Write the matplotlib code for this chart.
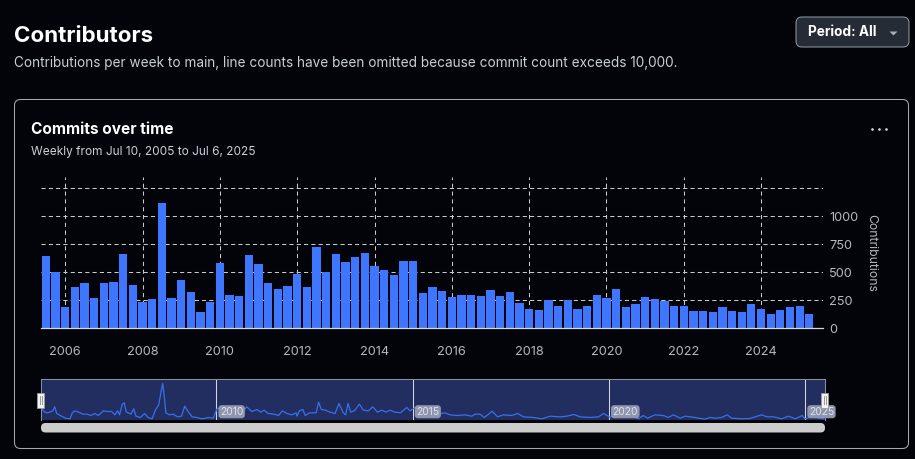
import matplotlib
matplotlib.use("Agg")
import matplotlib.pyplot as plt
from matplotlib.patches import FancyBboxPatch, Rectangle

plt.rcParams['font.family'] = ['Inter', 'Liberation Sans', 'DejaVu Sans']

# quarterly bars, first one at mid 2005
start_year = 2005.5
quarter = 0.25
contributions = [
    646, 503, 190, 369, 405, 271, 405, 414, 664, 387, 235, 262, 1119, 271, 432, 324,
    146, 235, 583, 298, 289, 655, 574, 405, 351, 378, 485, 369, 726, 503, 664, 592,
    637, 673, 557, 521, 476, 601, 601, 315, 369, 333, 280, 298, 298, 289, 342, 289,
    324, 226, 173, 164, 253, 199, 253, 173, 199, 298, 271, 351, 190, 217, 280, 262,
    244, 199, 199, 155, 155, 146, 190, 155, 146, 217, 173, 128, 164, 190, 199, 128,
]
year_ticks = [2006, 2008, 2010, 2012, 2014, 2016, 2018, 2020, 2022, 2024]
value_grid = [0, 250, 500, 750, 1000, 1250]
value_labels = ['0', '250', '500', '750', '1000', '']

# overview line under the chart
mini_years = [
    2005.53, 2005.59, 2005.66, 2005.76, 2005.83, 2005.88, 2005.93, 2006.02, 2006.09, 2006.15,
    2006.27, 2006.32, 2006.38, 2006.49, 2006.60, 2006.70, 2006.80, 2006.90, 2006.99, 2007.12,
    2007.22, 2007.33, 2007.41, 2007.48, 2007.53, 2007.60, 2007.65, 2007.70, 2007.82, 2007.89,
    2007.95, 2008.06, 2008.17, 2008.26, 2008.36, 2008.45, 2008.53, 2008.58, 2008.63, 2008.68,
    2008.71, 2008.80, 2008.90, 2009.01, 2009.11, 2009.19, 2009.30, 2009.38, 2009.50, 2009.62,
    2009.72, 2009.80, 2009.92, 2010.01, 2010.09, 2010.22, 2010.43, 2010.65, 2010.77, 2010.90,
    2011.03, 2011.13, 2011.21, 2011.32, 2011.47, 2011.58, 2011.68, 2011.79, 2011.92, 2012.03,
    2012.05, 2012.11, 2012.20, 2012.26, 2012.37, 2012.54, 2012.60, 2012.67, 2012.77, 2012.89,
    2013.02, 2013.12, 2013.23, 2013.29, 2013.35, 2013.42, 2013.51, 2013.64, 2013.74, 2013.87,
    2013.98, 2014.10, 2014.21, 2014.32, 2014.42, 2014.55, 2014.68, 2014.85, 2014.93, 2015.06,
    2015.19, 2015.53, 2015.61, 2015.82, 2015.95, 2016.12, 2016.33, 2016.50, 2016.59, 2016.71,
    2016.82, 2016.93, 2017.02, 2017.16, 2017.31, 2017.52, 2017.67, 2017.82, 2018.07, 2018.29,
    2018.50, 2018.75, 2018.92, 2019.11, 2019.26, 2019.52, 2019.73, 2019.86, 2020.01, 2020.20,
    2020.62, 2020.75, 2020.87, 2020.98, 2021.17, 2021.38, 2021.51, 2021.64, 2021.81, 2021.94,
    2022.19, 2022.44, 2022.57, 2022.70, 2022.87, 2023.01, 2023.12, 2023.38, 2023.59, 2023.72,
    2023.89, 2024.02, 2024.18, 2024.40, 2024.57, 2024.74, 2024.92, 2024.99, 2025.16, 2025.46,
]
mini_values = [
    380, 260, 200, 220, 260, 380, 180, 120, 80, 40,
    20, 180, 260, 220, 160, 160, 120, 180, 120, 260,
    240, 240, 140, 260, 140, 460, 500, 230, 160, 320,
    100, 60, 180, 60, 20, 300, 440, 780, 1080, 580,
    200, 140, 160, 80, 100, 400, 200, 80, 60, 20,
    40, 60, 40, 320, 340, 230, 180, 200, 380, 240,
    300, 220, 280, 180, 160, 120, 260, 180, 140, 200,
    100, 260, 300, 120, 200, 200, 520, 300, 280, 220,
    180, 480, 200, 140, 480, 220, 260, 460, 280, 260,
    380, 220, 280, 220, 280, 220, 200, 360, 260, 360,
    230, 160, 160, 200, 140, 120, 140, 100, 160, 160,
    60, 160, 250, 80, 140, 120, 180, 80, 60, 20,
    100, 80, 100, 150, 80, 60, 80, 180, 80, 80,
    80, 20, 120, 40, 140, 120, 60, 140, 40, 100,
    60, 10, 60, 40, 60, 140, 40, 20, 30, 80,
    140, 80, 80, 20, 100, 20, 120, 20, 80, 20,
]
mini_ticks = [2010, 2015, 2020, 2025]

bg = '#02040a'
bar_color = '#3f76ff'
grid_color = '#c9cacc'
label_color = '#b4b8bf'
border_color = '#a4a9b1'
W, H = 915, 459


def px_axes(left, top, right, bottom):
    return fig.add_axes([left / W, 1 - bottom / H, (right - left) / W, (bottom - top) / H])


fig = plt.figure(figsize=(W / 100, H / 100), dpi=100, facecolor=bg)

# page furniture drawn in pixel coordinates
page = fig.add_axes([0, 0, 1, 1])
page.set_xlim(0, W)
page.set_ylim(H, 0)
page.axis('off')

page.text(14, 35.5, 'Contributors', color='white', fontsize=16.1, fontweight='bold', va='center')
page.text(14, 62.5, 'Contributions per week to main, line counts have been omitted because commit count exceeds 10,000.',
          color='#c9ced6', fontsize=9.79, va='center')

page.add_patch(FancyBboxPatch((796, 17), 113, 30, boxstyle='round,pad=0,rounding_size=6',
                              fc='#262c36', ec='#8f96a0', lw=0.75))
page.text(808.5, 32.5, 'Period: All', color='white', fontsize=9.8, fontweight='bold', va='center')
page.fill([889.5, 897.5, 893.5], [31.5, 31.5, 35.5], color='#a9adb4', lw=0)

page.add_patch(FancyBboxPatch((14.5, 99.5), 894, 349, boxstyle='round,pad=0,rounding_size=6',
                              fc='none', ec=border_color, lw=0.75))
page.text(31, 129, 'Commits over time', color='white', fontsize=11.1, fontweight='bold', va='center')
page.text(31, 151.5, 'Weekly from Jul 10, 2005 to Jul 6, 2025', color='#c9ced6', fontsize=8.55, va='center')
page.plot([872, 879, 886], [129, 129, 129], ls='none', marker='o', ms=1.9, mew=0, color='#d5d8dd')

# bar chart
ax = px_axes(41, 177, 823, 328.4)
ax.set_facecolor('none')
bar_years = [start_year + i * quarter for i in range(len(contributions))]
ax.bar(bar_years, contributions, width=0.215, color=bar_color, zorder=3)
ax.set_xlim(2005.371, 2025.604)
ax.set_ylim(0, 1351)
for y in value_grid[1:]:
    ax.axhline(y, color=grid_color, lw=0.75, dashes=(4, 3), zorder=1)
for x in year_ticks:
    ax.axvline(x, color=grid_color, lw=0.75, dashes=(4, 3.5), zorder=1)
for name in ['top', 'left', 'right']:
    ax.spines[name].set_visible(False)
ax.spines['bottom'].set_color('#d6d7da')
ax.spines['bottom'].set_linewidth(0.9)
ax.spines['bottom'].set_zorder(4)
ax.set_xticks(year_ticks, [str(y) for y in year_ticks])
ax.yaxis.tick_right()
ax.set_yticks(value_grid, value_labels)
ax.tick_params(axis='both', length=0, colors=label_color, labelsize=9.2)
ax.tick_params(axis='x', pad=13)
ax.tick_params(axis='y', pad=4.5)
page.text(871, 253, 'Contributions', color=label_color, fontsize=8.8, rotation=270, ha='center', va='center')

# overview strip
mini = px_axes(41, 379, 825, 419.5)
mini.set_facecolor('#222e60')
mini.plot(mini_years, mini_values, color='#3a6fec', lw=0.9, zorder=3)
mini.set_xlim(2005.53, 2025.5)
mini.set_ylim(0, 1215)
mini.set_xticks([])
mini.set_yticks([])
for name, spine in mini.spines.items():
    spine.set_color('#8b8f9c')
    spine.set_linewidth(0.75)
mini.spines['bottom'].set_visible(False)
for x in mini_ticks:
    mini.axvline(x, color='#d5d8e2', lw=0.75, zorder=2)
    mini.annotate(str(x), (x, 0), xytext=(2.5, 2), textcoords='offset points', ha='left', va='bottom',
                  color='#dfe2ec', fontsize=7.4, zorder=5, annotation_clip=False,
                  bbox=dict(boxstyle='round,pad=0.15,rounding_size=0.3', fc='#8f95ad', ec='none'))

# slider handles and scrollbar
page2 = fig.add_axes([0, 0, 1, 1])
page2.set_xlim(0, W)
page2.set_ylim(H, 0)
page2.axis('off')
for hx in [40.5, 824.5]:
    page2.add_patch(Rectangle((hx - 3.5, 392.5), 7, 15, fc='#f2f2f2', ec='#999999', lw=0.6))
    page2.plot([hx - 1, hx - 1], [396, 404], color='#9a9a9a', lw=0.7)
    page2.plot([hx + 1, hx + 1], [396, 404], color='#9a9a9a', lw=0.7)
page2.add_patch(FancyBboxPatch((41, 423), 784, 9.5, boxstyle='round,pad=0,rounding_size=4.5',
                               fc='#cccccc', ec='none'))

fig.savefig('out.png', dpi=100, facecolor=bg)
